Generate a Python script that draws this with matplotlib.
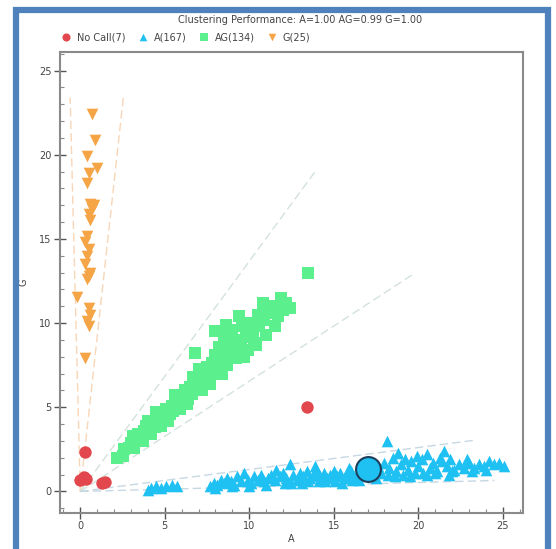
import matplotlib
matplotlib.use("Agg")
import matplotlib.pyplot as plt
from matplotlib.patches import Rectangle
from matplotlib.ticker import MultipleLocator

# ---------------- data ----------------
title = "Clustering Performance: A=1.00 AG=0.99 G=1.00"

nocall_x = [13.4, 0.3, 0.2, 0.0, 0.35, 1.3, 1.45]
nocall_y = [5.0, 2.35, 0.88, 0.68, 0.75, 0.5, 0.55]

a_x = [4.0, 4.2, 4.5, 4.8, 5.1, 5.4, 5.7,
       7.7, 7.9, 8.1, 8.3, 8.5, 8.7, 8.9, 9.1, 9.3, 9.5, 9.7, 9.9, 10.1, 10.3,
       10.5, 10.7, 10.9, 11.1, 11.3, 11.5, 11.8, 12.0, 12.2, 12.4, 12.6, 12.8,
       13.0, 13.2, 13.4, 13.6, 13.8, 14.0, 14.2, 14.4, 14.6, 14.8, 15.0, 15.2,
       15.4, 15.6, 15.8, 16.0, 16.2, 16.5, 16.8, 17.3, 17.6, 17.8, 18.0, 18.15,
       18.3, 18.5, 18.7, 18.8, 19.0, 19.2, 19.4, 19.6, 19.8, 20.0, 20.2, 20.5,
       20.7, 20.9, 21.1, 21.3, 21.5, 21.7, 21.9, 22.1, 22.4, 22.7, 23.0, 23.3,
       23.6, 23.9, 24.2, 24.5, 24.8, 25.1,
       12.5, 13.5, 14.5, 15.5, 16.5, 19.5, 20.5, 21.8,
       8.0, 9.0, 10.0, 11.0, 12.1, 13.1, 14.1, 15.1, 16.1, 17.5, 18.6, 19.1,
       20.3, 21.0, 22.0, 23.2, 24.0, 11.6, 13.9, 15.9, 18.2, 19.9, 21.4, 22.9]
a_y = [0.1, 0.2, 0.3, 0.2, 0.3, 0.4, 0.3,
       0.3, 0.5, 0.4, 0.7, 0.5, 0.8, 0.6, 0.4, 0.9, 0.6, 1.1, 0.7, 0.5, 0.9,
       0.7, 1.0, 0.6, 0.8, 1.0, 0.7, 0.9, 1.1, 0.8, 1.6, 1.0, 0.7,
       1.1, 0.9, 1.2, 0.8, 1.0, 1.2, 0.9, 1.1, 0.8, 1.0, 1.2, 0.9,
       1.1, 0.8, 1.0, 1.2, 0.9, 1.1, 1.3, 1.2, 1.5, 1.1, 1.7, 3.0,
       1.4, 2.0, 1.2, 2.3, 1.6, 1.9, 1.3, 1.8, 1.1, 1.5, 1.9, 2.2,
       1.4, 1.7, 1.2, 2.0, 2.4, 1.5, 1.9, 1.3, 1.6, 1.4, 1.7, 1.4,
       1.6, 1.5, 1.8, 1.6, 1.7, 1.5,
       0.5, 0.6, 0.6, 0.5, 0.7, 0.9, 1.0, 1.0,
       0.2, 0.3, 0.3, 0.4, 0.5, 0.5, 0.6, 0.6, 0.7, 0.8, 0.9, 1.0,
       1.1, 1.1, 1.2, 1.2, 1.3, 1.3, 1.5, 1.4, 1.0, 2.1, 1.8, 1.9]

ag_x = [2.2, 2.5, 2.6, 2.9, 3.0, 3.3, 3.4, 3.6, 3.8, 3.9, 4.1, 4.3, 4.4, 4.6,
        4.7, 4.9, 5.0, 5.1, 5.3, 5.4, 5.5, 5.7, 5.8, 6.0, 6.1, 6.2, 6.4, 6.5,
        6.6, 6.8, 6.9, 7.0, 7.1, 7.3, 7.4, 7.5, 7.6, 7.8, 7.9, 8.0, 8.1, 8.2,
        8.3, 8.5, 8.6, 8.7, 8.8, 9.0, 9.1, 9.2, 9.3, 9.4, 9.5, 9.6, 9.8, 9.9,
        10.0, 10.2, 10.3, 10.5, 10.6, 10.8, 10.9, 11.0, 11.2, 11.4, 11.5, 11.7,
        11.9, 12.0, 12.2, 12.4, 6.8, 13.5, 8.0, 8.6,
        3.2, 3.7, 4.2, 4.8, 5.2, 5.9, 6.3, 7.2, 7.7, 8.4, 9.7, 10.4,
        3.1, 4.0, 4.5, 5.6, 6.7, 7.0, 8.9, 11.1]
ag_y = [2.0, 2.1, 2.5, 2.6, 2.9, 3.0, 3.4, 3.2, 3.6, 3.9, 3.7, 4.1, 3.8, 4.4,
        4.1, 4.6, 4.3, 4.9, 4.6, 5.1, 4.8, 5.4, 5.0, 5.6, 5.2, 6.0, 5.5, 6.2,
        5.8, 6.5, 6.0, 6.8, 6.3, 7.0, 6.5, 7.4, 6.8, 7.6, 7.0, 8.1, 7.3, 8.6,
        7.8, 9.2, 8.2, 7.5, 8.8, 9.6, 8.4, 7.9, 9.0, 10.4, 8.6, 9.8, 9.2, 8.4,
        10.0, 9.5, 8.8, 10.5, 9.8, 11.2, 10.2, 9.3, 10.6, 11.0, 9.8, 10.4,
        11.5, 10.8, 11.2, 10.9, 8.2, 13.0, 9.5, 9.9,
        2.6, 3.0, 3.4, 3.9, 4.2, 4.9, 5.2, 6.0, 6.4, 7.0, 8.0, 8.7,
        3.3, 4.2, 4.7, 5.7, 6.8, 7.3, 9.3, 11.0]

g_x = [0.7, 0.9, 0.4, 1.0, 0.5, 0.4, 0.6, 0.7, 0.5, 0.6, 0.4, 0.3, 0.5,
       0.4, 0.3, 0.6, 0.4, -0.2, 0.5, 0.6, 0.4, 0.5, 0.3, 0.8, 0.5]
g_y = [22.4, 20.9, 19.9, 19.2, 18.9, 18.3, 17.1, 16.8, 16.5, 16.1, 15.2, 14.8, 14.4,
       14.0, 13.5, 13.0, 12.6, 11.55, 10.9, 10.5, 10.1, 9.8, 7.9, 17.0, 12.8]

# selected sample
sel_x = [17.0]
sel_y = [1.35]

# cluster boundary lines (from origin to end point)
g_bound_x = [-0.6, 2.55]
g_bound_y = [23.4, 23.4]
ag_bound_x = [13.9, 19.7]
ag_bound_y = [19.0, 12.9]
a_bound_x = [23.4, 24.5]
a_bound_y = [3.05, 0.65]

labels = ["No Call(7)", "A(167)", "AG(134)", "G(25)"]

# ---------------- figure ----------------
fig = plt.figure(figsize=(5.56, 5.49), dpi=100)
ax = fig.add_axes([0.1079, 0.0656, 0.8327, 0.8397])

# boundary lines
for bx, by, c in [(g_bound_x, g_bound_y, "#f8d6b8"),
                  (ag_bound_x, ag_bound_y, "#d4e2d9"),
                  (a_bound_x, a_bound_y, "#c6d8e3")]:
    for ex, ey in zip(bx, by):
        ax.plot([0, ex], [0, ey], ls=(0, (6, 3)), lw=1.0, color=c, zorder=1)

h0 = ax.scatter(nocall_x, nocall_y, s=80, marker="o", color="#e2474e", lw=0, zorder=3)
h1 = ax.scatter(a_x, a_y, s=70, marker="^", color="#1fc0f2", lw=0, zorder=2)
h2 = ax.scatter(ag_x, ag_y, s=70, marker="s", color="#5bef8d", lw=0, zorder=2)
h3 = ax.scatter(g_x, g_y, s=70, marker="v", color="#f5a446", lw=0, zorder=2)
ax.scatter(sel_x, sel_y, s=320, marker="o", facecolor="#1fc0f2",
           edgecolor="#1d3d5a", lw=1.5, zorder=4)

ax.set_xlim(-1.2, 26.2)
ax.set_ylim(-1.28, 26.1)
ax.xaxis.set_major_locator(MultipleLocator(5))
ax.yaxis.set_major_locator(MultipleLocator(5))
ax.xaxis.set_minor_locator(MultipleLocator(1))
ax.yaxis.set_minor_locator(MultipleLocator(1))
ax.tick_params(which="major", direction="inout", length=8, width=1,
               color="#555555", labelsize=7, labelcolor="#444444", pad=2)
ax.tick_params(which="minor", direction="in", length=3, width=0.8, color="#888888")
ax.tick_params(axis="x", which="both", top=False)
ax.tick_params(axis="y", which="both", right=False)
for sp in ax.spines.values():
    sp.set_color("#8a8a8a")
    sp.set_linewidth(1.5)

ax.set_xlabel("A", fontsize=7, color="#444444", labelpad=2)
ax.set_ylabel("G", fontsize=7, color="#444444", labelpad=8)

fig.text(0.54, 0.9636, title, ha="center", va="center", fontsize=7, color="#444444")
fig.legend([h0, h1, h2, h3], labels, loc="center left", bbox_to_anchor=(0.095, 0.9326),
           ncol=4, frameon=False, fontsize=7, markerscale=0.65, handlelength=1.0,
           handletextpad=0.6, columnspacing=1.3, labelcolor="#444444")

# blue frame of the screenshot
fig.patches.append(Rectangle((0.0288, -0.05), 0.9568, 1.0318, transform=fig.transFigure,
                             fill=False, edgecolor="#4f81bd", lw=4.5))

fig.savefig("out.png", dpi=100)
